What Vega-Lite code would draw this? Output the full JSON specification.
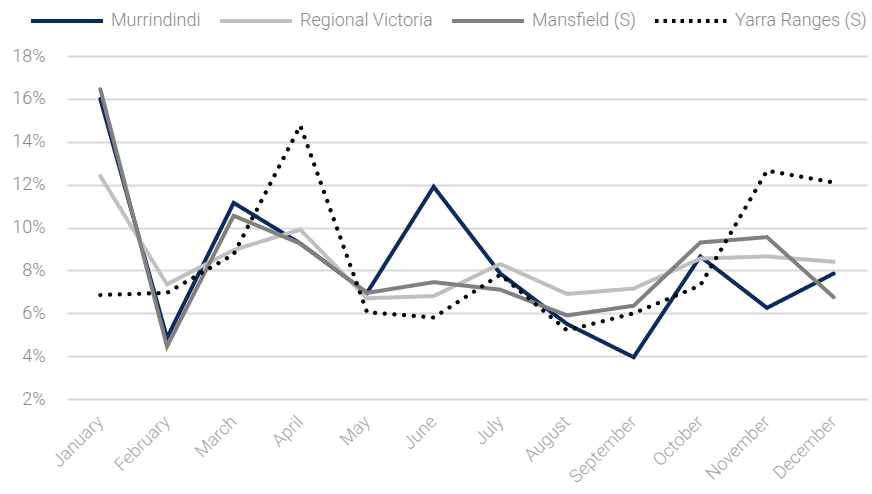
{
  "$schema": "https://vega.github.io/schema/vega-lite/v6.json",
  "width": 800,
  "height": 343,
  "autosize": {"type": "none"},
  "padding": {"left": 67, "top": 56, "right": 5, "bottom": 95},
  "background": "white",
  "config": {
    "view": {"stroke": null},
    "font": "Roboto",
    "axis": {"labelFont": "Roboto", "labelFontWeight": 300, "labelColor": "#8a8a8a", "labelFontSize": 18},
    "legend": {"labelFont": "Roboto", "labelFontWeight": 300}
  },
  "data": {
    "values": [
      {"month": "January", "series": "Murrindindi", "value": 16.0},
      {"month": "February", "series": "Murrindindi", "value": 4.85},
      {"month": "March", "series": "Murrindindi", "value": 11.15},
      {"month": "April", "series": "Murrindindi", "value": 9.25},
      {"month": "May", "series": "Murrindindi", "value": 6.95},
      {"month": "June", "series": "Murrindindi", "value": 11.9},
      {"month": "July", "series": "Murrindindi", "value": 7.85},
      {"month": "August", "series": "Murrindindi", "value": 5.5},
      {"month": "September", "series": "Murrindindi", "value": 3.95},
      {"month": "October", "series": "Murrindindi", "value": 8.65},
      {"month": "November", "series": "Murrindindi", "value": 6.25},
      {"month": "December", "series": "Murrindindi", "value": 7.85},
      {"month": "January", "series": "Regional Victoria", "value": 12.4},
      {"month": "February", "series": "Regional Victoria", "value": 7.35},
      {"month": "March", "series": "Regional Victoria", "value": 8.95},
      {"month": "April", "series": "Regional Victoria", "value": 9.9},
      {"month": "May", "series": "Regional Victoria", "value": 6.7},
      {"month": "June", "series": "Regional Victoria", "value": 6.8},
      {"month": "July", "series": "Regional Victoria", "value": 8.3},
      {"month": "August", "series": "Regional Victoria", "value": 6.9},
      {"month": "September", "series": "Regional Victoria", "value": 7.15},
      {"month": "October", "series": "Regional Victoria", "value": 8.55},
      {"month": "November", "series": "Regional Victoria", "value": 8.65},
      {"month": "December", "series": "Regional Victoria", "value": 8.4},
      {"month": "January", "series": "Mansfield (S)", "value": 16.45},
      {"month": "February", "series": "Mansfield (S)", "value": 4.45},
      {"month": "March", "series": "Mansfield (S)", "value": 10.55},
      {"month": "April", "series": "Mansfield (S)", "value": 9.25},
      {"month": "May", "series": "Mansfield (S)", "value": 6.95},
      {"month": "June", "series": "Mansfield (S)", "value": 7.45},
      {"month": "July", "series": "Mansfield (S)", "value": 7.1},
      {"month": "August", "series": "Mansfield (S)", "value": 5.9},
      {"month": "September", "series": "Mansfield (S)", "value": 6.35},
      {"month": "October", "series": "Mansfield (S)", "value": 9.3},
      {"month": "November", "series": "Mansfield (S)", "value": 9.55},
      {"month": "December", "series": "Mansfield (S)", "value": 6.75},
      {"month": "January", "series": "Yarra Ranges (S)", "value": 6.85},
      {"month": "February", "series": "Yarra Ranges (S)", "value": 6.95},
      {"month": "March", "series": "Yarra Ranges (S)", "value": 8.75},
      {"month": "April", "series": "Yarra Ranges (S)", "value": 14.75},
      {"month": "May", "series": "Yarra Ranges (S)", "value": 6.05},
      {"month": "June", "series": "Yarra Ranges (S)", "value": 5.8},
      {"month": "July", "series": "Yarra Ranges (S)", "value": 7.8},
      {"month": "August", "series": "Yarra Ranges (S)", "value": 5.2},
      {"month": "September", "series": "Yarra Ranges (S)", "value": 6.0},
      {"month": "October", "series": "Yarra Ranges (S)", "value": 7.3},
      {"month": "November", "series": "Yarra Ranges (S)", "value": 12.65},
      {"month": "December", "series": "Yarra Ranges (S)", "value": 12.1}
    ]
  },
  "encoding": {
    "x": {
      "field": "month",
      "type": "ordinal",
      "sort": ["January", "February", "March", "April", "May", "June", "July", "August", "September", "October", "November", "December"],
      "scale": {"type": "point", "padding": 0.5},
      "axis": {"title": null, "labelAngle": -45, "labelAlign": "right", "labelBaseline": "middle", "labelPadding": 20, "labelColor": "#a3a3a3", "ticks": false, "domain": false, "grid": false}
    },
    "y": {
      "field": "value",
      "type": "quantitative",
      "scale": {"domain": [2, 18], "nice": false, "zero": false},
      "axis": {"title": null, "values": [2, 4, 6, 8, 10, 12, 14, 16, 18], "labelExpr": "datum.value + '%'", "ticks": false, "domain": false, "grid": true, "gridColor": "#d9d9d9", "gridWidth": 2, "labelPadding": 22}
    },
    "color": {
      "field": "series",
      "type": "nominal",
      "sort": ["Murrindindi", "Regional Victoria", "Mansfield (S)", "Yarra Ranges (S)"],
      "scale": {"domain": ["Murrindindi", "Regional Victoria", "Mansfield (S)", "Yarra Ranges (S)"], "range": ["#0b2a5f", "#c0c0c0", "#808080", "#000000"]},
      "legend": {
        "title": null, "orient": "none", "direction": "horizontal", "legendX": -38, "legendY": -73,
        "symbolType": "stroke", "symbolSize": 5184, "symbolStrokeWidth": 4,
        "labelFontSize": 18, "labelColor": "#8a8a8a", "labelOffset": 6, "columnPadding": 11
      }
    },
    "strokeDash": {
      "field": "series",
      "type": "nominal",
      "sort": ["Murrindindi", "Regional Victoria", "Mansfield (S)", "Yarra Ranges (S)"],
      "scale": {"domain": ["Murrindindi", "Regional Victoria", "Mansfield (S)", "Yarra Ranges (S)"], "range": [[1, 0], [1, 0], [1, 0], [3.5, 5]]}
    }
  },
  "layer": [
    {
      "transform": [{"filter": "datum.series === 'Murrindindi'"}],
      "mark": {"type": "line", "strokeWidth": 4, "strokeCap": "round", "strokeJoin": "miter"}
    },
    {
      "transform": [{"filter": "datum.series === 'Regional Victoria'"}],
      "mark": {"type": "line", "strokeWidth": 4, "strokeCap": "round", "strokeJoin": "miter"}
    },
    {
      "transform": [{"filter": "datum.series === 'Mansfield (S)'"}],
      "mark": {"type": "line", "strokeWidth": 4, "strokeCap": "round", "strokeJoin": "miter"}
    },
    {
      "transform": [{"filter": "datum.series === 'Yarra Ranges (S)'"}],
      "mark": {"type": "line", "strokeWidth": 4.2, "strokeCap": "round", "strokeJoin": "round"},
      "encoding": {"strokeDash": {"value": [0.1, 9.6]}}
    }
  ]
}
